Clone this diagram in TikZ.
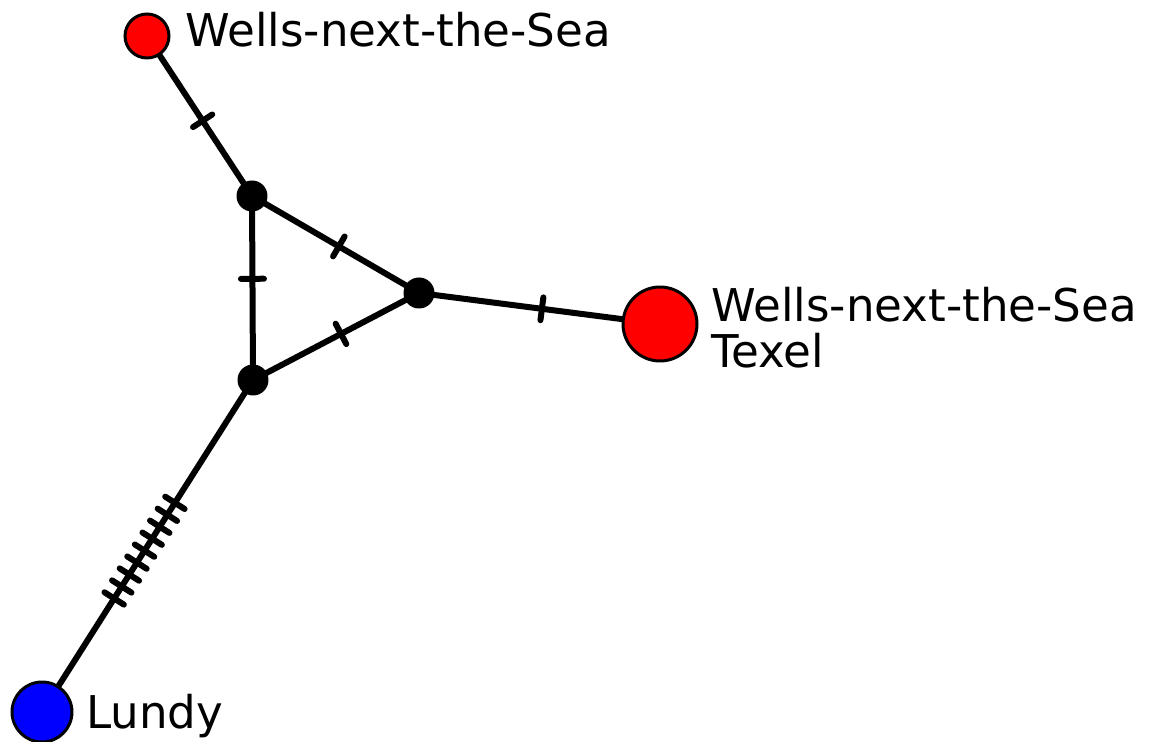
\documentclass[tikz,border=0pt]{standalone}
\usepackage{fontspec}
\setmainfont{DejaVu Sans}
\usetikzlibrary{backgrounds}
\begin{document}
\begin{tikzpicture}[x=0.02cm,y=-0.02cm,
  hap/.style={circle,draw=black,line width=0.06cm,inner sep=0pt},
  redhap/.style={hap,fill=red},
  bluehap/.style={hap,fill=blue},
  median/.style={circle,fill=black,inner sep=0pt,minimum size=0.62cm},
  edge/.style={line width=0.12cm},
  tickmark/.style={fill=black,inner sep=0pt,minimum width=0.12cm,minimum height=0.58cm,rounded corners=0.06cm,sloped},
  lbl/.style={anchor=base west,inner sep=0pt,font=\fontsize{25.7pt}{30pt}\selectfont}]
\useasboundingbox (0,0) rectangle (1150,742);
\node[redhap,minimum size=0.88cm] (wells) at (147,36) {};
\node[redhap,minimum size=1.48cm] (wt) at (660,324) {};
\node[bluehap,minimum size=1.2cm] (lundy) at (42,712) {};
\node[median] (m1) at (252,196) {};
\node[median] (m2) at (419,293) {};
\node[median] (m3) at (253,380) {};
\node[lbl] (t1) at (185,47) {Wells-next-the-Sea};
\node[lbl] (t2) at (711,322) {Wells-next-the-Sea};
\node[lbl] (t3) at (711,368) {Texel};
\node[lbl] (t4) at (86,729) {Lundy};
\begin{pgfonlayer}{background}
\draw[edge] (wells.center) -- (m1.center) node[tickmark,pos=0.53] {};
\draw[edge] (m1.center) -- (m3.center) node[tickmark,pos=0.45] {};
\draw[edge] (m1.center) -- (m2.center) node[tickmark,pos=0.52] {};
\draw[edge] (m3.center) -- (m2.center) node[tickmark,pos=0.53] {};
\draw[edge] (m2.center) -- (wt.center) node[tickmark,pos=0.51] {};
\draw[edge] (m3.center) -- (lundy.center)
  node[tickmark,pos=0.370] {} node[tickmark,pos=0.406] {}
  node[tickmark,pos=0.442] {} node[tickmark,pos=0.478] {}
  node[tickmark,pos=0.514] {} node[tickmark,pos=0.550] {}
  node[tickmark,pos=0.586] {} node[tickmark,pos=0.622] {}
  node[tickmark,pos=0.658] {};
\end{pgfonlayer}
\end{tikzpicture}
\end{document}
